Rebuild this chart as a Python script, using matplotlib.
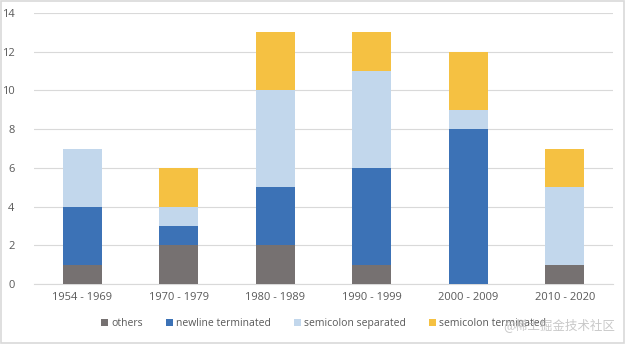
import matplotlib.pyplot as plt
import numpy as np

categories = ["1954 - 1969", "1970 - 1979", "1980 - 1989", "1990 - 1999", "2000 - 2009", "2010 - 2020"]
others = [1, 2, 2, 1, 0, 1]
newline_terminated = [3, 1, 3, 5, 8, 0]
semicolon_separated = [3, 1, 5, 5, 1, 4]
semicolon_terminated = [0, 2, 3, 2, 3, 2]

series = [
    ("others", others, "#767171"),
    ("newline terminated", newline_terminated, "#3C72B6"),
    ("semicolon separated", semicolon_separated, "#C2D7EC"),
    ("semicolon terminated", semicolon_terminated, "#F5C142"),
]

plt.rcParams["font.family"] = ["Open Sans", "DejaVu Sans"]

fig = plt.figure(figsize=(6.25, 3.44), dpi=100)
ax = fig.add_axes([34 / 625, 1 - 284 / 344, (613 - 34) / 625, (284 - 13) / 344])

x = np.arange(len(categories))
bottom = np.zeros(len(categories))
for name, vals, color in series:
    ax.bar(x, vals, 0.4, bottom=bottom, color=color, label=name, zorder=3)
    bottom += np.array(vals)

ax.set_xlim(-0.5, len(categories) - 0.5)
ax.set_ylim(0, 14)
ax.set_yticks(range(0, 15, 2))
ax.set_xticks(x)
ax.set_xticklabels(categories)
ax.grid(axis="y", color="#D9D9D9", linewidth=0.8, zorder=0)
for s in ["top", "right", "left"]:
    ax.spines[s].set_visible(False)
ax.spines["bottom"].set_color("#D9D9D9")
ax.tick_params(axis="both", length=0, labelsize=8, colors="#595959", pad=6)
ax.tick_params(axis="y", pad=14)

ax.legend(loc="lower center", bbox_to_anchor=(0.5, -0.2), ncol=4, frameon=False,
          fontsize=7.5, labelcolor="#595959", handlelength=0.7, handleheight=0.7,
          handletextpad=0.3, columnspacing=2.2)

fig.text(0.985, 0.035, "@稀土掘金技术社区", ha="right", va="bottom", fontsize=9,
         color="#BBBBBB", family=["Noto Sans CJK SC", "DejaVu Sans"], alpha=0.8)

border = plt.Rectangle((0.002, 0.004), 0.996, 0.992, transform=fig.transFigure,
                       fill=False, edgecolor="#D9D9D9", linewidth=1.2)
fig.patches.append(border)

fig.savefig("out.png", dpi=100)
